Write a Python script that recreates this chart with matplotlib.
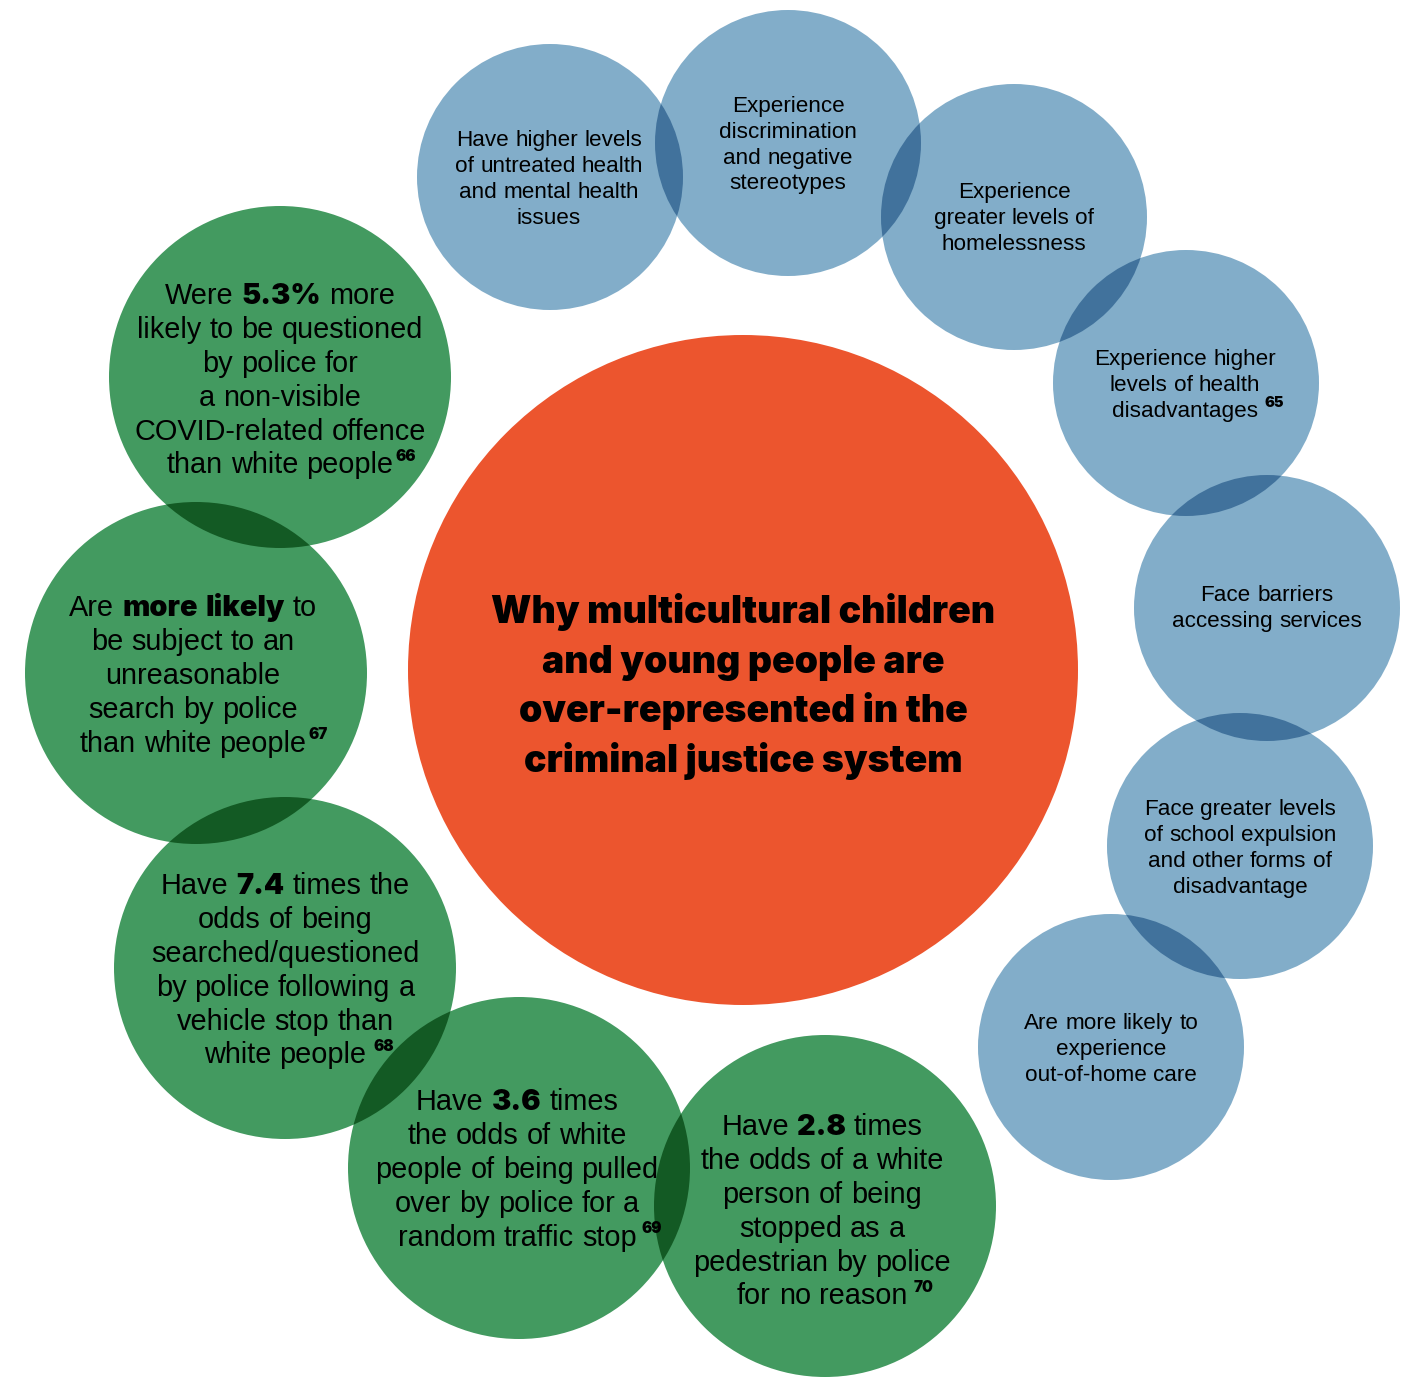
import matplotlib
matplotlib.use("Agg")
import matplotlib.pyplot as plt
from matplotlib.patches import Circle

# colours
ORANGE = '#ec552e'
GREEN = '#439a60'
GREEN_DARK = '#135a24'
BLUE = '#82adc9'
BLUE_DARK = '#41729c'

FONT = 'Liberation Sans'
HEAVY = 'Inter'

# ---- text content ----
title_lines = ["Why multicultural children",
               "and young people are",
               "over-represented in the",
               "criminal justice system"]

blue_texts = [
    ["Have higher levels", "of untreated health", "and mental health", "issues"],
    ["Experience", "discrimination", "and negative", "stereotypes"],
    ["Experience", "greater levels of", "homelessness"],
    ["Experience higher", "levels of health", "disadvantages"],
    ["Face barriers", "accessing services"],
    ["Face greater levels", "of school expulsion", "and other forms of", "disadvantage"],
    ["Are more likely to", "experience", "out-of-home care"],
]
blue_notes = [None, None, None, "65", None, None, None]

# **x** marks the bold part of a line
green_texts = [
    ["Were **5.3%** more", "likely to be questioned", "by police for",
     "a non-visible", "COVID-related offence", "than white people"],
    ["Are **more likely** to", "be subject to an", "unreasonable",
     "search by police", "than white people"],
    ["Have **7.4** times the", "odds of being", "searched/questioned",
     "by police following a", "vehicle stop than", "white people"],
    ["Have **3.6** times", "the odds of white", "people of being pulled",
     "over by police for a", "random traffic stop"],
    ["Have **2.8** times", "the odds of a white", "person of being",
     "stopped as a", "pedestrian by police", "for no reason"],
]
green_notes = ["66", "67", "68", "69", "70"]

# ---- layout (pixels) ----
centre_xy, centre_r = (743, 670), 335
blue_xy = [(550, 177), (788, 143), (1014, 217), (1186, 383),
           (1267, 608), (1240, 846), (1111, 1047)]
blue_r = 133
blue_text_x = [549, 788, 1014, 1185, 1267, 1240, 1111]
blue_first_y = [138, 104, 190, 357, 593, 807, 1021]
blue_note_gap = [0, 0, 0, 4, 0, 0, 0]

green_xy = [(280, 377), (196, 673), (285, 968), (519, 1168), (825, 1206)]
green_r = 171
green_text_x = [280, 193, 285, 517, 822]
green_first_y = [294, 606, 884, 1100, 1125]
green_note_gap = [0, 0, 5, 3, 4]

W, H = 1413, 1377
fig = plt.figure(figsize=(W / 100, H / 100), dpi=100)
ax = fig.add_axes([0, 0, 1, 1])
ax.set_xlim(0, W)
ax.set_ylim(H, 0)
ax.axis('off')
renderer = fig.canvas.get_renderer()


def text_width(s, size, weight='normal', family=FONT):
    t = ax.text(0, 0, s, fontsize=size, fontweight=weight, family=family)
    w = t.get_window_extent(renderer).width
    t.remove()
    return w


def draw_line(x, y, line, size, note=None, note_gap=0, note_size=10):
    # split line into (word, bold) pieces, centre the whole line on x
    parts = []
    for i, chunk in enumerate(line.split('**')):
        for word in chunk.split():
            parts.append((word, i % 2 == 1))
    space = text_width('x x', size) - text_width('xx', size)
    widths = [text_width(w, size, 'black', HEAVY) if b else text_width(w, size)
              for w, b in parts]
    total = sum(widths) + space * (len(parts) - 1)
    base = y + 0.36 * size * 100 / 72
    cx = x - total / 2
    for (w, b), wd in zip(parts, widths):
        ax.text(cx, base, w, fontsize=size,
                family=HEAVY if b else FONT,
                fontweight='black' if b else 'normal',
                ha='left', va='baseline', color='black', zorder=5)
        cx += wd + space
    if note:
        ax.text(cx - space + note_gap + 2, base - 0.43 * size * 100 / 72, note,
                fontsize=note_size, family=HEAVY, fontweight='black',
                ha='left', va='baseline', color='black', zorder=6)


def draw_group(centres, r, color, dark):
    for c in centres:
        ax.add_patch(Circle(c, r, facecolor=color, edgecolor='none', zorder=2))
    # darker lens where neighbouring circles overlap
    for a, b in zip(centres[:-1], centres[1:]):
        lens = Circle(b, r, facecolor=dark, edgecolor='none', zorder=3)
        ax.add_patch(lens)
        lens.set_clip_path(Circle(a, r, transform=ax.transData))


ax.add_patch(Circle(centre_xy, centre_r, facecolor=ORANGE, edgecolor='none', zorder=1))
draw_group(blue_xy, blue_r, BLUE, BLUE_DARK)
draw_group(green_xy, green_r, GREEN, GREEN_DARK)

# centre title, sized so the first line is ~502 px wide
title_size = 28 * 502 / text_width(title_lines[0], 28, 'black', HEAVY)
for i, line in enumerate(title_lines):
    ax.text(centre_xy[0], 610 + i * 49.5 + 0.36 * title_size * 100 / 72, line,
            fontsize=title_size, family=HEAVY, fontweight='black',
            ha='center', va='baseline', color='black', zorder=5)

for k, lines in enumerate(blue_texts):
    for i, line in enumerate(lines):
        note = blue_notes[k] if i == len(lines) - 1 else None
        draw_line(blue_text_x[k], blue_first_y[k] + i * 25.8, line, 16.2,
                  note, blue_note_gap[k], 10.5)

for k, lines in enumerate(green_texts):
    for i, line in enumerate(lines):
        note = green_notes[k] if i == len(lines) - 1 else None
        draw_line(green_text_x[k], green_first_y[k] + i * 33.8, line, 20.8,
                  note, green_note_gap[k], 11)

fig.savefig('out.png', dpi=100)
